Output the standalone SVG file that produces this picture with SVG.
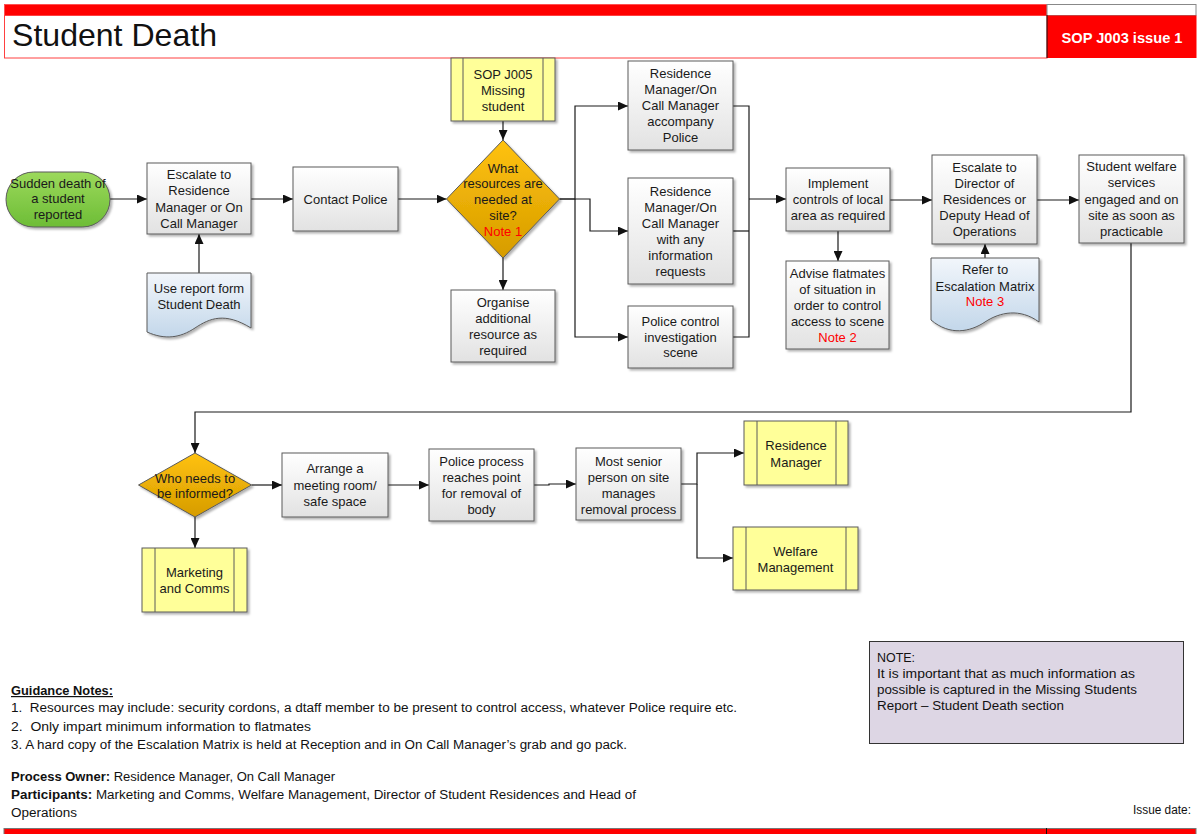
<svg xmlns="http://www.w3.org/2000/svg" width="1198" height="834" viewBox="0 0 1198 834">
<defs>
<linearGradient id="gProc" x1="0" y1="0" x2="0" y2="1"><stop offset="0" stop-color="#ffffff"/><stop offset="1" stop-color="#e2e2e2"/></linearGradient>
<linearGradient id="gGreen" x1="0" y1="0" x2="0" y2="1"><stop offset="0" stop-color="#9cd95c"/><stop offset="1" stop-color="#6dbd36"/></linearGradient>
<linearGradient id="gOrange" x1="0" y1="0" x2="0" y2="1"><stop offset="0" stop-color="#ffc20e"/><stop offset="1" stop-color="#d69c00"/></linearGradient>
<linearGradient id="gDoc" x1="0" y1="0" x2="0" y2="1"><stop offset="0" stop-color="#f2f6fb"/><stop offset="1" stop-color="#c3d7ea"/></linearGradient>
<filter id="sh" x="-10%" y="-10%" width="130%" height="130%"><feDropShadow dx="2" dy="2" stdDeviation="1" flood-color="#000" flood-opacity="0.3"/></filter>
<marker id="arr" markerWidth="11" markerHeight="9" refX="10" refY="4.5" orient="auto" markerUnits="userSpaceOnUse"><path d="M0,0 L10,4.5 L0,9 z" fill="#111"/></marker>
<style>
.proc{fill:url(#gProc);stroke:#5a5a5a;stroke-width:1;filter:url(#sh)}
.term{fill:url(#gGreen);stroke:#5a5a5a;stroke-width:1;filter:url(#sh)}
.dec{fill:url(#gOrange);stroke:#5a5a5a;stroke-width:1;filter:url(#sh)}
.doc{fill:url(#gDoc);stroke:#5a5a5a;stroke-width:1;filter:url(#sh)}
.sub{fill:#ffff99;stroke:#5a5a5a;stroke-width:1;filter:url(#sh)}
.bar{fill:none;stroke:#5a5a5a;stroke-width:1}
.t{font-family:"Liberation Sans",Arial,sans-serif;font-size:13px;fill:#1a1a1a;text-anchor:middle}
.red{fill:#ff0000}
.n{font-family:"Liberation Sans",Arial,sans-serif;font-size:12px;fill:#111;white-space:pre}
.b{font-weight:bold}
.c{fill:none;stroke:#1a1a1a;stroke-width:1.2;marker-end:url(#arr)}
.cl{fill:none;stroke:#1a1a1a;stroke-width:1.2}
</style>
</defs>
<rect width="1198" height="834" fill="#ffffff"/>

<g id="header">
<rect x="4.5" y="4.5" width="1042.5" height="11" fill="#ff0000" stroke="#ff5050" stroke-width="1"/>
<rect x="1047" y="4.5" width="149" height="11" fill="#ffffff" stroke="#888" stroke-width="1"/>
<rect x="4.5" y="15.5" width="1042.5" height="42.5" fill="#ffffff" stroke="#ff4040" stroke-width="1"/>
<rect x="1047" y="15.5" width="149.5" height="42.5" fill="#ff0000"/>
<line x1="1047" y1="15" x2="1047" y2="58" stroke="#111" stroke-width="1"/>
<text x="12" y="46" font-family="'Liberation Sans',Arial,sans-serif" font-size="32" fill="#111" textLength="205" lengthAdjust="spacingAndGlyphs">Student Death</text>
<text x="1122" y="43" font-family="'Liberation Sans',Arial,sans-serif" font-size="14" font-weight="bold" fill="#ffffff" text-anchor="middle" textLength="121" lengthAdjust="spacingAndGlyphs">SOP J003 issue 1</text>
</g>

<g id="connectors">
<path class="c" d="M110,199 H147"/>
<path class="c" d="M251,199 H293"/>
<path class="c" d="M398,199 H446.5"/>
<path class="c" d="M199,273 V234"/>
<path class="c" d="M503,121 V140"/>
<path class="c" d="M503,258 V290"/>
<path class="c" d="M559.5,199 H575 V106 H628"/>
<path class="c" d="M575,199 V337 H628"/>
<path class="c" d="M559.5,199 H590 V231 H628"/>
<path class="cl" d="M733,106 H749 V337 H733"/>
<path class="cl" d="M733,231 H749"/>
<path class="c" d="M749,199 H786"/>
<path class="c" d="M838,231 V261"/>
<path class="c" d="M890,200 H932"/>
<path class="c" d="M985,258 V244"/>
<path class="c" d="M1037,200 H1079"/>
<path class="c" d="M1131,243 V412 H195 V453"/>
<path class="c" d="M251.5,485 H282"/>
<path class="c" d="M195,517 V548"/>
<path class="c" d="M388,485 H429"/>
<path class="c" d="M534,485 H549 V484 H576"/>
<path class="c" d="M681,484 H697 V453 H744"/>
<path class="c" d="M697,484 V558 H733"/>
</g>

<g id="start">
<rect class="term" x="6" y="172" width="104" height="55" rx="27.5" ry="27.5"/>
<text class="t"><tspan x="58" y="188">Sudden death of</tspan><tspan x="58" y="203">a student</tspan><tspan x="58" y="219">reported</tspan></text>
</g>

<g id="escalate">
<rect class="proc" x="147" y="163" width="104" height="71"/>
<text class="t"><tspan x="199" y="179">Escalate to</tspan><tspan x="199" y="195">Residence</tspan><tspan x="199" y="212">Manager or On</tspan><tspan x="199" y="228">Call Manager</tspan></text>
</g>

<g id="report-form">
<path class="doc" d="M147,273 H251 V328 C225,312 210,318 195,328 C180,338 165,340 147,332 Z"/>
<text class="t"><tspan x="199" y="293">Use report form</tspan><tspan x="199" y="309">Student Death</tspan></text>
</g>

<g id="contact-police">
<rect class="proc" x="293" y="167" width="105" height="64"/>
<text class="t" x="345.5" y="204">Contact Police</text>
</g>

<g id="sop-j005">
<rect class="sub" x="451" y="58" width="104" height="63"/>
<line class="bar" x1="463" y1="58" x2="463" y2="121"/>
<line class="bar" x1="543" y1="58" x2="543" y2="121"/>
<text class="t"><tspan x="503" y="79">SOP J005</tspan><tspan x="503" y="95">Missing</tspan><tspan x="503" y="111">student</tspan></text>
</g>

<g id="resources-decision">
<path class="dec" d="M503,140 L559.5,199 L503,258 L446.5,199 Z"/>
<text class="t"><tspan x="503" y="173">What</tspan><tspan x="503" y="188">resources are</tspan><tspan x="503" y="204">needed at</tspan><tspan x="503" y="220">site?</tspan><tspan x="503" y="236" class="red">Note 1</tspan></text>
</g>

<g id="organise">
<rect class="proc" x="451" y="290" width="104" height="72"/>
<text class="t"><tspan x="503" y="307">Organise</tspan><tspan x="503" y="323">additional</tspan><tspan x="503" y="339">resource as</tspan><tspan x="503" y="355">required</tspan></text>
</g>

<g id="accompany-police">
<rect class="proc" x="628" y="61" width="105" height="89"/>
<text class="t"><tspan x="680.5" y="78">Residence</tspan><tspan x="680.5" y="94">Manager/On</tspan><tspan x="680.5" y="110">Call Manager</tspan><tspan x="680.5" y="126">accompany</tspan><tspan x="680.5" y="142">Police</tspan></text>
</g>

<g id="information-requests">
<rect class="proc" x="628" y="178" width="105" height="106"/>
<text class="t"><tspan x="680.5" y="196">Residence</tspan><tspan x="680.5" y="212">Manager/On</tspan><tspan x="680.5" y="228">Call Manager</tspan><tspan x="680.5" y="244">with any</tspan><tspan x="680.5" y="260">information</tspan><tspan x="680.5" y="276">requests</tspan></text>
</g>

<g id="police-control">
<rect class="proc" x="628" y="306" width="105" height="62"/>
<text class="t"><tspan x="680.5" y="326">Police control</tspan><tspan x="680.5" y="342">investigation</tspan><tspan x="680.5" y="357">scene</tspan></text>
</g>

<g id="implement-controls">
<rect class="proc" x="786" y="168" width="104" height="63"/>
<text class="t"><tspan x="838" y="188">Implement</tspan><tspan x="838" y="204">controls of local</tspan><tspan x="838" y="220">area as required</tspan></text>
</g>

<g id="advise-flatmates">
<rect class="proc" x="786" y="261" width="103" height="88"/>
<text class="t"><tspan x="837.5" y="278">Advise flatmates</tspan><tspan x="837.5" y="294">of situation in</tspan><tspan x="837.5" y="310">order to control</tspan><tspan x="837.5" y="326">access to scene</tspan><tspan x="837.5" y="342" class="red">Note 2</tspan></text>
</g>

<g id="escalate-director">
<rect class="proc" x="932" y="155" width="105" height="89"/>
<text class="t"><tspan x="984.5" y="172">Escalate to</tspan><tspan x="984.5" y="188">Director of</tspan><tspan x="984.5" y="204">Residences or</tspan><tspan x="984.5" y="220">Deputy Head of</tspan><tspan x="984.5" y="236">Operations</tspan></text>
</g>

<g id="escalation-matrix">
<path class="doc" d="M931,258 H1039 V322 C1020,308 1000,312 985,322 C970,332 950,336 931,320 Z"/>
<text class="t"><tspan x="985" y="274">Refer to</tspan><tspan x="985" y="291">Escalation Matrix</tspan><tspan x="985" y="306" class="red">Note 3</tspan></text>
</g>

<g id="student-welfare">
<rect class="proc" x="1079" y="155" width="105" height="88"/>
<text class="t"><tspan x="1131.5" y="171">Student welfare</tspan><tspan x="1131.5" y="187">services</tspan><tspan x="1131.5" y="204">engaged and on</tspan><tspan x="1131.5" y="220">site as soon as</tspan><tspan x="1131.5" y="236">practicable</tspan></text>
</g>

<g id="who-informed-decision">
<path class="dec" d="M195,453 L251.5,485 L195,517 L138.5,485 Z"/>
<text class="t"><tspan x="195" y="483">Who needs to</tspan><tspan x="195" y="498">be informed?</tspan></text>
</g>

<g id="marketing-comms">
<rect class="sub" x="142" y="548" width="105" height="64"/>
<line class="bar" x1="155" y1="548" x2="155" y2="612"/>
<line class="bar" x1="234" y1="548" x2="234" y2="612"/>
<text class="t"><tspan x="194.5" y="577">Marketing</tspan><tspan x="194.5" y="593">and Comms</tspan></text>
</g>

<g id="arrange-room">
<rect class="proc" x="282" y="453" width="106" height="64"/>
<text class="t"><tspan x="335" y="473">Arrange a</tspan><tspan x="335" y="490">meeting room/</tspan><tspan x="335" y="506">safe space</tspan></text>
</g>

<g id="police-process">
<rect class="proc" x="429" y="449" width="105" height="72"/>
<text class="t"><tspan x="481.5" y="466">Police process</tspan><tspan x="481.5" y="482">reaches point</tspan><tspan x="481.5" y="498">for removal of</tspan><tspan x="481.5" y="514">body</tspan></text>
</g>

<g id="most-senior">
<rect class="proc" x="576" y="448" width="105" height="72"/>
<text class="t"><tspan x="628.5" y="466">Most senior</tspan><tspan x="628.5" y="482">person on site</tspan><tspan x="628.5" y="498">manages</tspan><tspan x="628.5" y="514">removal process</tspan></text>
</g>

<g id="residence-manager">
<rect class="sub" x="744" y="421" width="104" height="64"/>
<line class="bar" x1="757" y1="421" x2="757" y2="485"/>
<line class="bar" x1="836" y1="421" x2="836" y2="485"/>
<text class="t"><tspan x="796" y="450">Residence</tspan><tspan x="796" y="467">Manager</tspan></text>
</g>

<g id="welfare-management">
<rect class="sub" x="733" y="527" width="125" height="63"/>
<line class="bar" x1="746" y1="527" x2="746" y2="590"/>
<line class="bar" x1="846" y1="527" x2="846" y2="590"/>
<text class="t"><tspan x="795.5" y="556">Welfare</tspan><tspan x="795.5" y="572">Management</tspan></text>
</g>

<g id="guidance-notes">
<text class="n b" x="11" y="695" text-decoration="underline" textLength="102" lengthAdjust="spacingAndGlyphs">Guidance Notes:</text>
<text class="n" x="11" y="712" textLength="726" lengthAdjust="spacingAndGlyphs">1.  Resources may include: security cordons, a dtaff member to be present to control access, whatever Police require etc.</text>
<text class="n" x="11" y="731" textLength="300" lengthAdjust="spacingAndGlyphs">2.  Only impart minimum information to flatmates</text>
<text class="n" x="11" y="749" textLength="616" lengthAdjust="spacingAndGlyphs">3. A hard copy of the Escalation Matrix is held at Reception and in On Call Manager’s grab and go pack.</text>
<text class="n" x="11" y="781" textLength="324" lengthAdjust="spacingAndGlyphs"><tspan class="b">Process Owner:</tspan> Residence Manager, On Call Manager</text>
<text class="n" x="11" y="799" textLength="625" lengthAdjust="spacingAndGlyphs"><tspan class="b">Participants:</tspan> Marketing and Comms, Welfare Management, Director of Student Residences and Head of</text>
<text class="n" x="11" y="817" textLength="66" lengthAdjust="spacingAndGlyphs">Operations</text>
</g>

<g id="note-box">
<rect x="869.5" y="641.5" width="314" height="102" fill="#ddd6e4" stroke="#333" stroke-width="1"/>
<text class="n" x="877" y="662" textLength="38" lengthAdjust="spacingAndGlyphs">NOTE:</text>
<text class="n" x="877" y="678" textLength="258" lengthAdjust="spacingAndGlyphs">It is important that as much information as</text>
<text class="n" x="877" y="694" textLength="260" lengthAdjust="spacingAndGlyphs">possible is captured in the Missing Students</text>
<text class="n" x="877" y="710" textLength="187" lengthAdjust="spacingAndGlyphs">Report – Student Death section</text>
</g>

<g id="footer">
<text class="n" x="1133" y="814" textLength="58" lengthAdjust="spacingAndGlyphs">Issue date:</text>
<rect x="4" y="828.5" width="1192" height="6" fill="#ff0000" stroke="#777" stroke-width="1"/>
<line x1="1046.5" y1="828" x2="1046.5" y2="834" stroke="#111" stroke-width="1"/>
</g>
</svg>
